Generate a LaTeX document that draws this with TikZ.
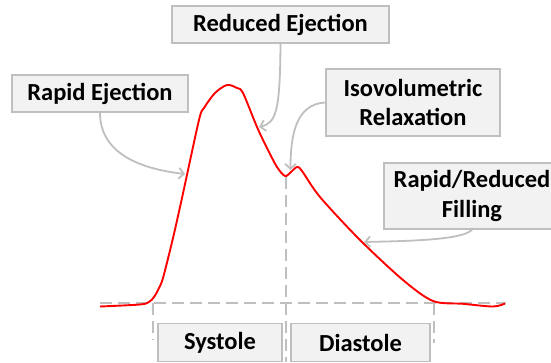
\documentclass[tikz,border=0pt]{standalone}
\usepackage{fontspec}
\setmainfont{Carlito}
\usetikzlibrary{arrows.meta}
\definecolor{lgray}{HTML}{BFBFBF}
\definecolor{boxfill}{HTML}{F2F2F2}
\tikzset{
  lbl/.style={draw=lgray, fill=boxfill, line width=1.6pt, inner sep=0pt, align=center,
    font=\fontsize{24.5}{29.5}\selectfont\bfseries},
  callout/.style={draw=lgray, line width=1.8pt, -{Straight Barb[length=5pt,width=11pt,line width=1.8pt]}},
  dashln/.style={draw=lgray, line width=2pt, dash pattern=on 12pt off 6pt},
  wave/.style={draw=red, line width=1.9pt}
}
\begin{document}
\begin{tikzpicture}[x=1pt,y=-1pt]
\useasboundingbox (0,0) rectangle (551,362);
\clip (0,0) rectangle (551,362);
% dashed guides
\draw[dashln] (100,303.3) -- (506,303.3);
\draw[dashln] (153.3,303.3) -- (153.3,340);
\draw[dashln] (286,177) -- (286,362);
\draw[dashln] (434,303.3) -- (434,343);
% waveform
\draw[wave] plot[smooth, tension=0.5] coordinates {
 (100,306.5) (140,304.5) (149,302) (154,297) (158,290) (163,278) (173,238) (182,198)
 (199,120) (204,108) (215,93) (227,85) (237,88) (243,93) (257,127) (267,148) (277,167)
 (285,176) (291,172) (297,167) (302,171) (320,197) (360,240) (403,280) (433,301)
 (463,303.8) (493,306.5) (505,303.5)};
% boxes
\node[lbl, minimum width=176pt, minimum height=37pt] (re) at (100,93.5) {Rapid Ejection};
\node[lbl, minimum width=217pt, minimum height=37pt] (rdej) at (280.5,24.5) {Reduced Ejection};
\node[lbl, minimum width=174pt, minimum height=67pt] (iso) at (413,102.5) {Isovolumetric\\Relaxation};
\node[lbl, minimum width=176pt, minimum height=66pt] (fil) at (472,196) {Rapid/Reduced\\Filling};
\node[lbl, minimum width=124pt, minimum height=38pt] (sys) at (220,342.5) {Systole};
\node[lbl, minimum width=139pt, minimum height=38pt] (dia) at (360.5,342.5) {Diastole};
% callouts
\coordinate (t1) at (185,174);
\coordinate (t2) at (259,127);
\coordinate (t3) at (290.5,170);
\coordinate (t4) at (364,242);
\draw[callout] (re.south) .. controls (100,158) and (150,170) .. (t1);
\draw[callout] (rdej.south) .. controls (280,112) and (276,123) .. (t2);
\draw[callout] (iso.west) .. controls (296,104) and (290.5,135) .. (t3);
\draw[callout] (fil.south) .. controls (462,240) and (410,241) .. (t4);
\end{tikzpicture}
\end{document}
